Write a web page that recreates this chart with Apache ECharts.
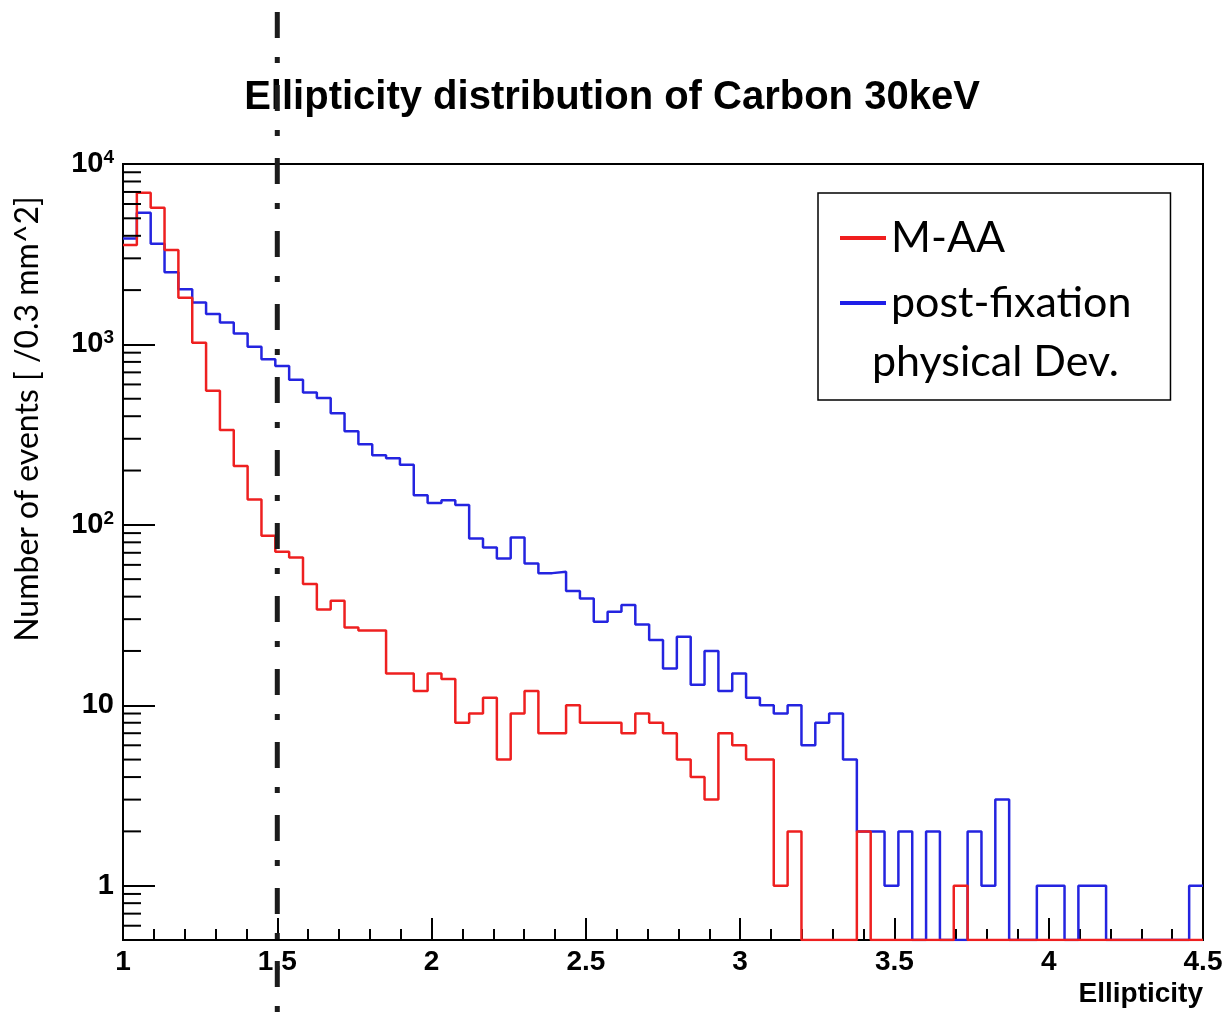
<!DOCTYPE html>
<html>
<head>
<meta charset="utf-8">
<script src="https://cdn.jsdelivr.net/npm/echarts@6/dist/echarts.min.js"></script>
<style>
html,body{margin:0;padding:0;background:#fff;}
#c{width:1224px;height:1012px;}
</style>
</head>
<body>
<div id="c"></div>
<script>
// ---- data ----
const binLow = 1.0;
const binHigh = 4.5;
const nBins = 78;
const xTickValues = [1, 1.5, 2, 2.5, 3, 3.5, 4, 4.5];
const yMajorTicks = [1, 10, 100, 1000, 10000];
const yMinorMultipliers = [2, 3, 4, 5, 6, 7, 8, 9];
const yAxisMin = 0.5;
const yAxisMax = 10000;
const cutValue = 1.5;
const seriesNames = ['M-AA', 'post-fixation'];
const legendSecondLine = 'physical Dev.';
const chartTitle = 'Ellipticity distribution of Carbon 30keV';
const xAxisTitle = 'Ellipticity';
const yAxisTitle = 'Number of events [ /0.3 mm^2]';

const maaCounts = [
  3560, 6930, 5730, 3340, 1815, 1020, 554, 336, 212, 138,
  87, 71, 66, 47, 34, 38, 27, 26, 26, 15,
  15, 12, 15, 14, 8, 9, 11, 5, 9, 12,
  7, 7, 10, 8, 8, 8, 7, 9, 8, 7,
  5, 4, 3, 7, 6, 5, 5, 1, 2, 0,
  0, 0, 0, 2, 0, 0, 0, 0, 0, 0,
  1, 0, 0, 0, 0, 0, 0, 0, 0, 0,
  0, 0, 0, 0, 0, 0, 0, 0
];
const postFixCounts = [
  3870, 5370, 3610, 2510, 2020, 1706, 1476, 1322, 1150, 970,
  828, 760, 638, 541, 504, 416, 330, 280, 243, 234,
  215, 146, 132, 137, 129, 84, 75, 65, 85, 61,
  54, 55, 43, 39, 29, 33, 36, 28, 23, 16,
  24, 13, 20, 12, 15, 11, 10, 9, 10, 6,
  8, 9, 5, 2, 2, 1, 2, 0, 2, 0,
  0, 2, 1, 3, 0, 0, 1, 1, 0, 1,
  1, 0, 0, 0, 0, 0, 0, 1
];

// ---- build histogram step data (zero bins drawn on the frame bottom, as ROOT does) ----
function histData(counts) {
  const w = (binHigh - binLow) / nBins;
  const out = [];
  for (let k = 0; k < counts.length; k++) {
    out.push([binLow + k * w, Math.max(counts[k], yAxisMin)]);
  }
  out.push([binHigh, Math.max(counts[counts.length - 1], yAxisMin)]);
  return out;
}
const yMinorTicks = [];
[0.1].concat(yMajorTicks.slice(0, -1)).forEach(function (d) {
  yMinorMultipliers.forEach(function (m) {
    const v = d * m;
    if (v > yAxisMin && v < yAxisMax) yMinorTicks.push(v);
  });
});

const HELV = '"Liberation Sans", Arial, Helvetica, sans-serif';
const CALIBRI = 'Lato, "Open Sans", sans-serif';

const chart = echarts.init(document.getElementById('c'), null, {renderer: 'canvas'});

const option = {
  animation: false,
  backgroundColor: '#ffffff',
  title: {
    text: chartTitle,
    left: 'center',
    top: 78,
    padding: 0,
    textStyle: {fontFamily: HELV, fontSize: 40, fontWeight: 'bold', color: '#000'}
  },
  grid: {
    left: 123, right: 21, top: 164, bottom: 72,
    containLabel: false,
    outerBoundsMode: 'none',
    show: true, borderColor: '#000', borderWidth: 2, backgroundColor: 'transparent'
  },
  legend: {
    data: seriesNames,
    orient: 'vertical',
    left: 818,
    top: 193,
    padding: [20, 39, 72, 22],
    itemGap: 15,
    itemWidth: 46,
    itemHeight: 4,
    icon: 'rect',
    selectedMode: false,
    backgroundColor: '#fff',
    borderColor: '#000',
    borderWidth: 1.5,
    borderRadius: 0,
    textStyle: {fontFamily: CALIBRI, fontSize: 43, color: '#000', lineHeight: 50}
  },
  xAxis: {
    type: 'value',
    min: binLow,
    max: binHigh,
    interval: 0.5,
    name: xAxisTitle,
    nameLocation: 'end',
    nameGap: 0,
    nameTextStyle: {
      fontFamily: HELV, fontSize: 28, fontWeight: 'bold', color: '#000',
      align: 'right', verticalAlign: 'top', padding: [40, 0, 0, 0]
    },
    axisLine: {show: true, onZero: false, lineStyle: {color: '#000', width: 2}},
    axisTick: {show: true, inside: true, length: 22, lineStyle: {color: '#000', width: 2}},
    minorTick: {show: true, splitNumber: 5, length: 11, lineStyle: {color: '#000', width: 2}},
    splitLine: {show: false},
    minorSplitLine: {show: false},
    axisLabel: {
      margin: 8,
      fontFamily: HELV, fontSize: 28, fontWeight: 'bold', color: '#000',
      formatter: function (v) { return xTickValues.indexOf(v) >= 0 ? String(v) : ''; }
    }
  },
  yAxis: {
    type: 'log',
    logBase: 10,
    min: yAxisMin,
    max: yAxisMax,
    axisLine: {show: true, lineStyle: {color: '#000', width: 2}},
    axisTick: {show: true, inside: true, length: 32, lineStyle: {color: '#000', width: 2}},
    splitLine: {show: false},
    axisLabel: {
      margin: 9,
      color: '#000',
      formatter: function (v) {
        const e = Math.round(Math.log10(v));
        if (yMajorTicks.indexOf(v) < 0 && Math.abs(v - Math.pow(10, e)) > 1e-9 * v) return '';
        if (e === 0) return '{b|1}';
        if (e === 1) return '{b|10}';
        return '{b|10}{s|' + e + '}';
      },
      rich: {
        b: {fontFamily: HELV, fontSize: 29, fontWeight: 'bold', color: '#000', lineHeight: 32},
        s: {fontFamily: HELV, fontSize: 19, fontWeight: 'bold', color: '#000', verticalAlign: 'top', lineHeight: 19}
      }
    }
  },
  series: [
    {
      name: seriesNames[0],
      type: 'line',
      step: 'end',
      showSymbol: false,
      symbol: 'none',
      data: histData(maaCounts),
      color: '#f01e1e',
      lineStyle: {color: '#ee2020', width: 2.5},
      z: 3
    },
    {
      name: seriesNames[1],
      type: 'line',
      step: 'end',
      showSymbol: false,
      symbol: 'none',
      data: histData(postFixCounts),
      color: '#1e1ee8',
      lineStyle: {color: '#2424e0', width: 2.5},
      z: 2
    },
    {
      name: 'yMinorTicks',
      type: 'custom',
      silent: true,
      clip: false,
      data: yMinorTicks.map(function (v) { return [binLow, v]; }),
      renderItem: function (params, api) {
        const p = api.coord([api.value(0), api.value(1)]);
        return {
          type: 'line',
          shape: {x1: p[0], y1: p[1], x2: p[0] + 18, y2: p[1]},
          style: {stroke: '#000', lineWidth: 2}
        };
      },
      z: 4
    }
  ]
};
chart.setOption(option);

const cutX = chart.convertToPixel({xAxisIndex: 0}, cutValue);
chart.setOption({
  graphic: [
    {
      type: 'line',
      z: 100,
      silent: true,
      shape: {x1: cutX, y1: 0, x2: cutX, y2: 1012},
      style: {stroke: '#1c1c1c', lineWidth: 5, lineDash: [26, 19, 6, 22], lineDashOffset: 61}
    },
    {
      type: 'text',
      z: 100,
      x: 872,
      y: 362,
      style: {text: legendSecondLine, font: '43px Lato, "Open Sans", sans-serif', fill: '#000', align: 'left', verticalAlign: 'middle'}
    },
    {
      type: 'text',
      z: 100,
      x: 28,
      y: 419,
      rotation: Math.PI / 2,
      style: {text: yAxisTitle, font: '32px Lato, "Open Sans", sans-serif', fill: '#000', align: 'center', verticalAlign: 'middle'}
    }
  ]
});
</script>
</body>
</html>
